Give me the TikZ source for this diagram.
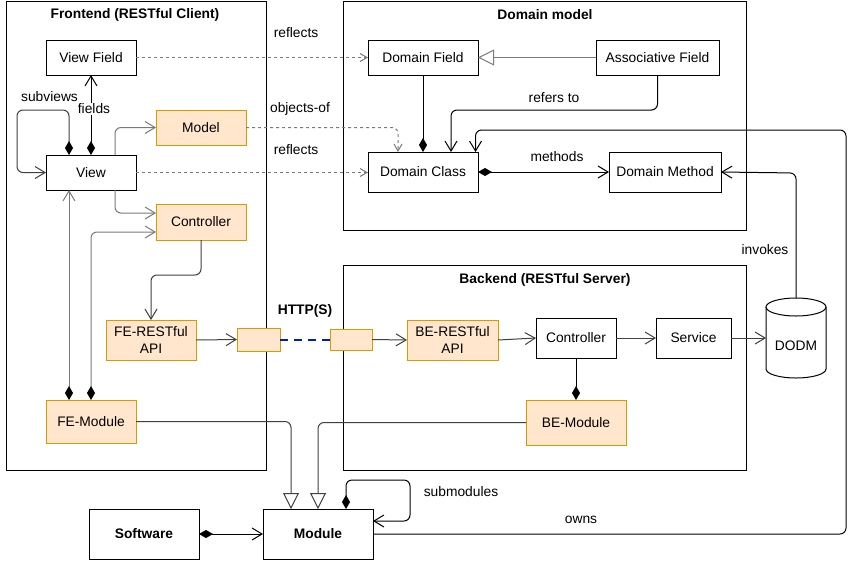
\documentclass[tikz,border=0pt]{standalone}
\usepackage{fontspec}
\setmainfont{Liberation Sans}
\usetikzlibrary{arrows.meta,calc}
\definecolor{ofill}{HTML}{FFE6CC}
\definecolor{ostroke}{HTML}{D79B00}
\definecolor{lgray}{HTML}{7A7A7A}
\definecolor{dgray}{HTML}{404040}
\definecolor{hblue}{HTML}{001DBC}
\tikzset{
  ob/.tip={Straight Barb[length=10pt,width=12pt]},
  sob/.tip={Straight Barb[length=7pt,width=8pt]},
  dm/.tip={Diamond[length=14pt,width=8pt,black]},
  tri/.tip={Triangle[length=16pt,width=16pt,fill=white]},
}
\newcommand{\myfs}{\fontsize{13.8}{16.5}\selectfont}
\begin{document}
\begin{tikzpicture}[x=1pt,y=-1pt,font=\myfs,
  box/.style={draw,line width=1pt,inner sep=0pt,outer sep=0pt,align=center,fill=white},
  obox/.style={box,fill=ofill,draw=ostroke},
  cont/.style={draw,line width=1pt},
  ttl/.style={font=\myfs\bfseries},
  lbl/.style={inner sep=1pt},
  conn/.style={line width=1pt,rounded corners=6pt},
  gconn/.style={conn,draw=lgray},
  dconn/.style={line width=1pt,draw=lgray,dash pattern=on 3pt off 3pt,rounded corners=6pt},
]
\path[fill=white,use as bounding box] (0,0) rectangle (861,560);

% containers
\draw[cont] (6,1) rectangle (266,470);
\draw[cont] (343,1) rectangle (746,230);
\draw[cont] (343,265) rectangle (746,470);
\node[ttl] (tfe) at (135,15) {Frontend (RESTful Client)};
\node[ttl] (tdm) at (545,15) {Domain model};
\node[ttl] (tbe) at (545,280) {Backend (RESTful Server)};

% frontend nodes
\node[box,minimum width=90,minimum height=35] (viewfield) at (91,57.5) {View Field};
\node[box,minimum width=90,minimum height=35] (view) at (91,172.5) {View};
\node[obox,minimum width=90,minimum height=35] (model) at (201,127.5) {Model};
\node[obox,minimum width=90,minimum height=36] (fectrl) at (201,222) {Controller};
\node[obox,minimum width=90,minimum height=40] (feapi) at (151,340) {FE-RESTful\\API};
\node[obox,minimum width=43,minimum height=23] (portl) at (258.5,339.5) {};
\node[obox,minimum width=42,minimum height=21] (portr) at (351,339.5) {};
\node[obox,minimum width=90,minimum height=43] (femod) at (91,421.5) {FE-Module};

% bottom
\node[box,minimum width=110,minimum height=50,font=\myfs\bfseries] (software) at (144,534) {Software};
\node[box,minimum width=110,minimum height=50,font=\myfs\bfseries] (module) at (318,534) {Module};

% backend
\node[obox,minimum width=91,minimum height=40] (beapi) at (452.5,340) {BE-RESTful\\API};
\node[box,minimum width=80,minimum height=40] (bectrl) at (576,338) {Controller};
\node[box,minimum width=75,minimum height=40] (service) at (693.5,338) {Service};
\node[obox,minimum width=100,minimum height=45] (bemod) at (576,422.5) {BE-Module};

% DODM cylinder
\node[inner sep=0pt,outer sep=0pt,minimum width=60,minimum height=80] (dodm) at (796,338) {};
\draw[line width=1pt,fill=white] (766,307) -- (766,369) arc[start angle=180,end angle=0,x radius=30,y radius=9] -- (826,307);
\draw[line width=1pt,fill=white] (796,307) ellipse [x radius=30,y radius=9];
\node (dodmtext) at (796,346) {DODM};

% domain model
\node[box,minimum width=110,minimum height=35] (dfield) at (423,57.5) {Domain Field};
\node[box,minimum width=123,minimum height=35] (afield) at (657.5,57.5) {Associative Field};
\node[box,minimum width=110,minimum height=40] (dclass) at (423,172) {Domain Class};
\node[box,minimum width=112,minimum height=40] (dmethod) at (665,172) {Domain Method};

% ---- connectors ----
\draw[dconn,-sob] (viewfield.east) -- (dfield.west);
\draw[dconn,-sob] (view.east) -- (view.east -| dclass.west);
\draw[dconn,-sob] (model.east) -| ([xshift=-25pt]dclass.north);

\draw[conn,dm-ob] (view.north) -- (viewfield.south);
\draw[conn,draw=dgray,dm-ob] ([xshift=-22pt]view.north) -- ++(0,-45) -- (17,110) -- (17,172.5) -- (view.west);
\draw[gconn,-ob] ([xshift=24pt]view.north) |- (model.west);
\draw[gconn,-ob] ([xshift=24pt]view.south) |- (fectrl.west |- 0,213);
\draw[gconn,dm-ob] (femod.north) |- (fectrl.west |- 0,232);
\draw[gconn,dm-ob] ([xshift=-22pt]femod.north) -- ([xshift=-22pt]view.south);
\draw[conn,draw=dgray,-ob] (fectrl.south) -- (fectrl.south |- 0,275) -| (feapi.north);

\draw[conn,draw=dgray,-ob] (feapi.east) -- (portl.west);
\draw[line width=2pt,draw=hblue,dash pattern=on 8pt off 6pt] (portl.east) -- (portr.west);
\draw[conn,draw=dgray,-ob] (portr.east) -- (beapi.west);
\draw[conn,draw=dgray,-ob] (beapi.east) -- (bectrl.west);
\draw[conn,draw=dgray,-ob] (bectrl.east) -- (service.west);
\draw[conn,draw=dgray,-ob] (service.east) -- (dodm.west);
\draw[conn,-dm] (bectrl.south) -- (bemod.north);

\draw[conn,draw=dgray,-tri] (femod.east) -| ([xshift=-27pt]module.north);
\draw[conn,draw=dgray,-tri] (bemod.west) -| (module.north);
\draw[conn,dm-ob] ([xshift=28pt]module.north) -- (346,480) -- (410,480) -- (410,521) -- (module.east |- 0,521);
\draw[conn,dm-ob] (software.east) -- (module.west);
\draw[conn,-ob] (module.east) -- (846,534) -- (846,130) -- (475.5,130) -- ([xshift=52.5pt]dclass.north);

\draw[conn,-ob] (dodm.north) -- (796,173) -- (dmethod.east);
\draw[conn,-dm] (dfield.south) -- (dclass.north);
\draw[gconn,-tri] (afield.west) -- (dfield.east);
\draw[conn,-ob] (afield.south) -- (657.5,110) -- (451,110) -- ([xshift=28pt]dclass.north);
\draw[conn,dm-ob] (dclass.east) -- (dmethod.west);

% ---- labels ----
\node[lbl] (l1) at (296,33) {reflects};
\node[lbl] (l2) at (300,109) {objects-of};
\node[lbl] (l3) at (296,150) {reflects};
\node[lbl] (l4) at (49.5,97) {subviews};
\node[lbl,fill=white] (l5) at (94,109) {fields};
\node[lbl] (l6) at (554,98) {refers to};
\node[lbl] (l7) at (557,157) {methods};
\node[lbl] (l8) at (765,250) {invokes};
\node[lbl,font=\myfs\bfseries] (l9) at (305,311) {HTTP(S)};
\node[lbl] (l10) at (461,492) {submodules};
\node[lbl] (l11) at (581,520) {owns};
\end{tikzpicture}
\end{document}
